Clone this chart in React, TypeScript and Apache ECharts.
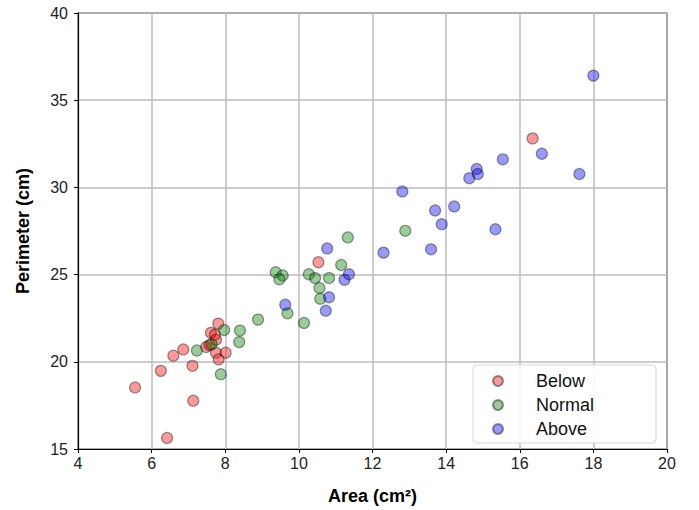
import React, { useEffect, useRef } from "react";
import * as echarts from "echarts";

const belowArea = [5.55, 6.42, 6.25, 6.59, 6.86, 7.11, 7.13, 7.48, 7.57, 7.61, 7.72, 7.75, 7.75, 7.81, 7.82, 8.01, 10.53, 16.35];
const belowPerim = [18.53, 15.63, 19.48, 20.35, 20.71, 19.77, 17.77, 20.85, 20.96, 21.66, 21.55, 21.26, 20.52, 22.19, 20.14, 20.52, 25.71, 32.81];

const normalArea = [7.23, 7.63, 7.97, 8.40, 8.38, 8.89, 7.88, 9.37, 9.56, 9.47, 9.69, 10.14, 10.27, 10.44, 10.82, 10.56, 10.58, 11.15, 11.33, 12.89];
const normalPerim = [20.65, 21.0, 21.82, 21.79, 21.13, 22.42, 19.29, 25.14, 24.95, 24.74, 22.78, 22.23, 25.02, 24.8, 24.8, 24.23, 23.62, 25.55, 27.13, 27.51];

const aboveArea = [9.63, 10.77, 10.82, 10.73, 11.24, 11.36, 12.30, 12.81, 13.59, 13.70, 13.88, 14.22, 14.63, 14.83, 14.86, 15.34, 15.54, 16.60, 17.62, 18.0];
const abovePerim = [23.27, 26.5, 23.7, 22.93, 24.7, 25.02, 26.26, 29.77, 26.45, 28.68, 27.89, 28.91, 30.53, 31.06, 30.77, 27.6, 31.61, 31.93, 30.77, 36.41];

const seriesNames = ["Below", "Normal", "Above"];
const seriesColors = ["rgba(245,0,0,0.5)", "rgba(0,128,0,0.5)", "rgba(0,0,245,0.5)"];

const xTicks = [4, 6, 8, 10, 12, 14, 16, 18, 20];
const yTicks = [15, 20, 25, 30, 35, 40];

const zip = (a: number[], b: number[]) => a.map((v, i) => [v, b[i]]);

export default function App() {
  const ref = useRef<HTMLDivElement>(null);
  useEffect(() => {
    if (!ref.current) return;
    const chart = echarts.init(ref.current, null, { renderer: "svg" });
    const datasets = [zip(belowArea, belowPerim), zip(normalArea, normalPerim), zip(aboveArea, abovePerim)];
    const font = "'Liberation Sans', Arial, sans-serif";
    chart.setOption({
      animation: false,
      grid: { left: 78, right: 32, top: 13, bottom: 58, show: true, borderColor: "#000", borderWidth: 1.2 },
      xAxis: {
        type: "value",
        min: xTicks[0],
        max: xTicks[xTicks.length - 1],
        interval: 2,
        name: "Area (cm²)",
        nameLocation: "middle",
        nameGap: 38,
        nameTextStyle: { fontFamily: font, fontSize: 18, fontWeight: "bold", color: "#000" },
        axisLine: { show: true, onZero: false, lineStyle: { color: "#000", width: 1.2 } },
        axisTick: { show: true, length: 4, lineStyle: { color: "#000" } },
        axisLabel: { fontFamily: font, fontSize: 16, color: "#222", margin: 6 },
        splitLine: { show: true, lineStyle: { color: "#bdbdbd", width: 1.5 } },
      },
      yAxis: {
        type: "value",
        min: yTicks[0],
        max: yTicks[yTicks.length - 1],
        interval: 5,
        name: "Perimeter (cm)",
        nameLocation: "middle",
        nameGap: 46,
        nameTextStyle: { fontFamily: font, fontSize: 18, fontWeight: "bold", color: "#000" },
        axisLine: { show: true, onZero: false, lineStyle: { color: "#000", width: 1.2 } },
        axisTick: { show: true, length: 4, lineStyle: { color: "#000" } },
        axisLabel: { fontFamily: font, fontSize: 16, color: "#222", margin: 10 },
        splitLine: { show: true, lineStyle: { color: "#bdbdbd", width: 1.5 } },
      },
      legend: {
        orient: "vertical",
        left: 473,
        top: 365,
        padding: [7, 62, 5, 19],
        itemGap: 6,
        itemWidth: 10,
        itemHeight: 10,
        icon: "circle",
        backgroundColor: "rgba(255,255,255,0.9)",
        borderColor: "#d8d8d8",
        borderWidth: 1,
        borderRadius: 4,
        data: seriesNames,
        textStyle: { fontFamily: font, fontSize: 18, color: "#111", padding: [0, 0, 0, 28] },
      },
      series: datasets.map((d, i) => ({
        name: seriesNames[i],
        type: "scatter",
        data: d,
        symbol: "circle",
        symbolSize: 11,
        itemStyle: { color: seriesColors[i], borderColor: "rgba(0,0,0,0.5)", borderWidth: 1.2 },
      })),
    });
    return () => chart.dispose();
  }, []);
  return <div ref={ref} style={{ width: 699, height: 510, position: "absolute", left: 0, top: 0, background: "#fff" }} />;
}
